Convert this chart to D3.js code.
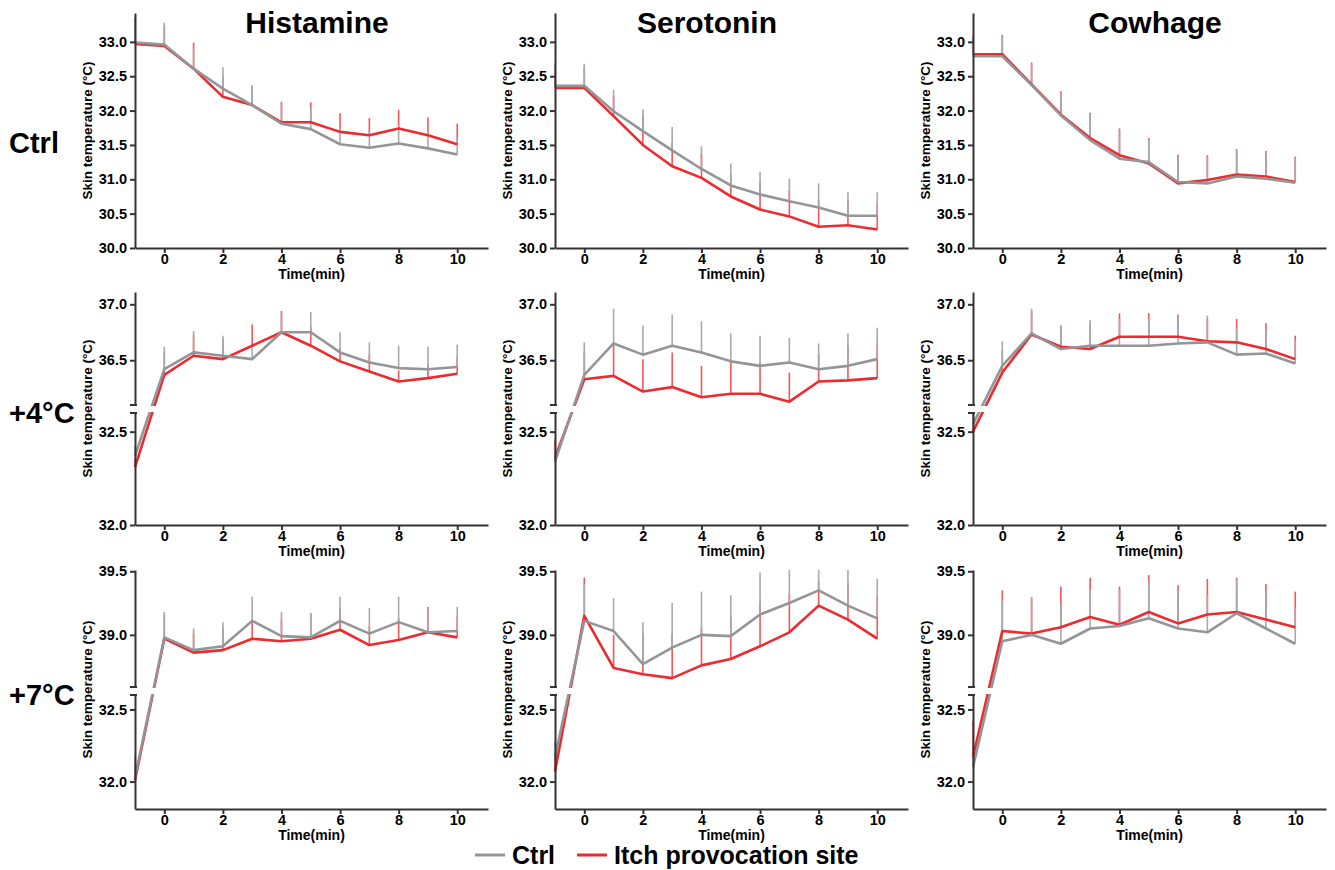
<!DOCTYPE html>
<html>
<head>
<meta charset="utf-8">
<script src="https://cdn.jsdelivr.net/npm/d3@7"></script>
<style>
    body { margin: 0; background: #fff; }
    svg { font-family: "Liberation Sans", Arial, sans-serif; font-weight: bold; }
</style>
</head>
<body>
<div id="chart"></div>
<script>
// time points (min); -1 is the baseline reading before provocation
const times = [-1, 0, 1, 2, 3, 4, 5, 6, 7, 8, 9, 10];
const drugs = ['Histamine', 'Serotonin', 'Cowhage'];
const conditions = ['Ctrl', '+4°C', '+7°C'];
const seriesNames = ['Ctrl', 'Itch provocation site'];
const xTicks = [0, 2, 4, 6, 8, 10];

// y tick labels per row
const baselineTicks = [30, 30.5, 31, 31.5, 32, 32.5, 33];
const plus4Ticks = [32, 32.5, 36.5, 37];
const plus7Ticks = [32, 32.5, 39, 39.5];

// row "Ctrl" : [histamine, serotonin, cowhage]
const baselineCtrlMean = [
    [32.99, 32.96, 32.61, 32.32, 32.08, 31.81, 31.73, 31.51, 31.46, 31.52, 31.45, 31.36],
    [32.36, 32.36, 31.99, 31.70, 31.42, 31.15, 30.91, 30.78, 30.68, 30.59, 30.47, 30.47],
    [32.79, 32.79, 32.37, 31.93, 31.57, 31.30, 31.25, 30.96, 30.94, 31.04, 31.01, 30.95]
];
const baselineCtrlSd = [
    [0.37, 0.32, 0.30, 0.31, 0.29, 0.30, 0.30, 0.25, 0.25, 0.27, 0.25, 0.25],
    [0.33, 0.32, 0.31, 0.32, 0.34, 0.33, 0.32, 0.33, 0.33, 0.35, 0.34, 0.34],
    [0.28, 0.29, 0.31, 0.33, 0.38, 0.42, 0.33, 0.38, 0.39, 0.38, 0.38, 0.36]
];
const baselineItchMean = [
    [32.97, 32.94, 32.61, 32.20, 32.08, 31.83, 31.83, 31.69, 31.64, 31.74, 31.64, 31.51],
    [32.33, 32.33, 31.92, 31.50, 31.19, 31.02, 30.75, 30.56, 30.46, 30.31, 30.33, 30.27],
    [32.82, 32.82, 32.38, 31.94, 31.60, 31.35, 31.23, 30.94, 30.99, 31.07, 31.04, 30.96]
];
const baselineItchSd = [
    [0.38, 0.30, 0.38, 0.30, 0.28, 0.30, 0.29, 0.27, 0.25, 0.27, 0.26, 0.30],
    [0.30, 0.30, 0.29, 0.44, 0.35, 0.35, 0.33, 0.40, 0.38, 0.39, 0.37, 0.39],
    [0.27, 0.28, 0.32, 0.34, 0.37, 0.39, 0.37, 0.42, 0.36, 0.37, 0.37, 0.37]
];

// row "+4°C"
const plus4CtrlMean = [
    [32.37, 36.42, 36.57, 36.54, 36.51, 36.75, 36.75, 36.57, 36.48, 36.43, 36.42, 36.44],
    [32.34, 36.37, 36.65, 36.55, 36.63, 36.57, 36.49, 36.45, 36.48, 36.42, 36.45, 36.51],
    [32.54, 36.45, 36.74, 36.60, 36.63, 36.63, 36.63, 36.65, 36.66, 36.55, 36.56, 36.47]
];
const plus4CtrlSd = [
    [0.05, 0.20, 0.19, 0.18, 0.10, 0.17, 0.18, 0.18, 0.18, 0.20, 0.20, 0.20],
    [0.08, 0.29, 0.31, 0.26, 0.28, 0.28, 0.25, 0.27, 0.22, 0.23, 0.29, 0.28],
    [0.10, 0.22, 0.22, 0.21, 0.23, 0.24, 0.24, 0.25, 0.24, 0.23, 0.22, 0.21]
];
const plus4ItchMean = [
    [32.31, 36.37, 36.54, 36.51, 36.63, 36.75, 36.63, 36.49, 36.40, 36.31, 36.34, 36.38],
    [32.36, 36.33, 36.36, 36.22, 36.26, 36.17, 36.20, 36.20, 36.13, 36.31, 36.32, 36.34],
    [32.50, 36.39, 36.73, 36.62, 36.60, 36.71, 36.71, 36.71, 36.67, 36.66, 36.60, 36.51]
];
const plus4ItchSd = [
    [0.05, 0.20, 0.18, 0.18, 0.19, 0.19, 0.17, 0.12, 0.15, 0.10, 0.12, 0.15],
    [0.10, 0.25, 0.29, 0.29, 0.31, 0.28, 0.30, 0.28, 0.26, 0.25, 0.31, 0.31],
    [0.10, 0.20, 0.21, 0.19, 0.22, 0.21, 0.21, 0.20, 0.20, 0.21, 0.23, 0.21]
];

// row "+7°C"
const plus7CtrlMean = [
    [32.03, 38.98, 38.88, 38.91, 39.11, 38.99, 38.98, 39.11, 39.01, 39.10, 39.02, 39.03],
    [32.17, 39.11, 39.03, 38.77, 38.90, 39.00, 38.99, 39.16, 39.25, 39.35, 39.23, 39.13],
    [32.10, 38.95, 39.00, 38.93, 39.05, 39.07, 39.13, 39.05, 39.02, 39.17, 39.05, 38.93]
];
const plus7CtrlSd = [
    [0.15, 0.20, 0.17, 0.19, 0.19, 0.19, 0.19, 0.19, 0.20, 0.20, 0.19, 0.19],
    [0.10, 0.29, 0.26, 0.33, 0.35, 0.34, 0.32, 0.33, 0.30, 0.30, 0.32, 0.31],
    [0.10, 0.32, 0.30, 0.31, 0.31, 0.29, 0.29, 0.30, 0.30, 0.27, 0.30, 0.28]
];
const plus7ItchMean = [
    [32.01, 38.97, 38.86, 38.88, 38.97, 38.95, 38.97, 39.04, 38.92, 38.96, 39.02, 38.98],
    [32.07, 39.15, 38.74, 38.69, 38.66, 38.76, 38.81, 38.91, 39.02, 39.23, 39.12, 38.97],
    [32.17, 39.03, 39.01, 39.06, 39.14, 39.08, 39.18, 39.09, 39.16, 39.18, 39.12, 39.06]
];
const plus7ItchSd = [
    [0.12, 0.19, 0.15, 0.18, 0.15, 0.17, 0.20, 0.17, 0.15, 0.17, 0.20, 0.17],
    [0.10, 0.30, 0.26, 0.32, 0.35, 0.30, 0.33, 0.35, 0.30, 0.19, 0.29, 0.33],
    [0.25, 0.32, 0.28, 0.32, 0.31, 0.30, 0.29, 0.30, 0.28, 0.27, 0.28, 0.28]
];

const colors = ['#939598', '#ee2a2e'];
const barColors = ['#a7a9ac', '#f2575a'];

const width = 1335;
const height = 870;

const svg = d3.select('#chart')
    .append('svg')
    .attr('width', width)
    .attr('height', height);

// panel layout: column left edges and row segments (broken y axis)
const colLeft = [135, 555, 973];
const plotW = 353;
const rows = [
    {
        ticks: baselineTicks, top: 13, bottom: 248,
        segments: [{domain: [30, 33.42], range: [248, 13]}],
        data: [baselineCtrlMean, baselineItchMean], sd: [baselineCtrlSd, baselineItchSd]
    },
    {
        ticks: plus4Ticks, top: 292, bottom: 525,
        segments: [{domain: [32, 32.6], range: [525, 413]}, {domain: [36.1, 37.11], range: [405, 292]}],
        data: [plus4CtrlMean, plus4ItchMean], sd: [plus4CtrlSd, plus4ItchSd]
    },
    {
        ticks: plus7Ticks, top: 570, bottom: 809,
        segments: [{domain: [31.81, 32.6], range: [809, 695]}, {domain: [38.59, 39.51], range: [687, 570]}],
        data: [plus7CtrlMean, plus7ItchMean], sd: [plus7CtrlSd, plus7ItchSd]
    }
];

const titleX = [317, 707, 1155];
drugs.forEach((d, i) => {
    svg.append('text')
        .attr('x', titleX[i])
        .attr('y', 33)
        .attr('text-anchor', 'middle')
        .attr('font-size', 30)
        .text(d);
});

const rowLabelY = [153, 423, 705];
conditions.forEach((c, i) => {
    svg.append('text')
        .attr('x', 9)
        .attr('y', rowLabelY[i])
        .attr('font-size', 29)
        .text(c);
});

rows.forEach((row, r) => {
    const scales = row.segments.map(s => d3.scaleLinear().domain(s.domain).range(s.range));

    // which axis segment a value belongs to
    function segOf(v) {
        for (let k = scales.length - 1; k > 0; k--) {
            if (v >= row.segments[k].domain[0]) return k;
        }
        return 0;
    }
    const yPos = v => scales[segOf(v)](v);

    drugs.forEach((drug, c) => {
        const x = d3.scaleLinear().domain([-1, 11.05]).range([0, plotW]);
        const g = svg.append('g')
            .attr('transform', `translate(${colLeft[c]},0)`);

        // clip paths for each axis segment
        row.segments.forEach((s, k) => {
            g.append('clipPath')
                .attr('id', `clip-${r}-${c}-${k}`)
                .append('rect')
                .attr('x', -2)
                .attr('y', s.range[1])
                .attr('width', plotW + 4)
                .attr('height', s.range[0] - s.range[1]);
        });

        // error bars (upper only)
        [1, 0].forEach(sIdx => {
            const means = row.data[sIdx][c];
            const sds = row.sd[sIdx][c];
            times.forEach((t, i) => {
                const k = segOf(means[i]);
                g.append('line')
                    .attr('clip-path', `url(#clip-${r}-${c}-${k})`)
                    .attr('x1', x(t))
                    .attr('x2', x(t))
                    .attr('y1', scales[k](means[i]))
                    .attr('y2', scales[k](means[i] + sds[i]))
                    .attr('stroke', barColors[sIdx])
                    .attr('stroke-width', 1.6);
            });
        });

        const line = d3.line()
            .x((d, i) => x(times[i]))
            .y(d => yPos(d));

        [1, 0].forEach(sIdx => {
            g.append('path')
                .datum(row.data[sIdx][c])
                .attr('fill', 'none')
                .attr('stroke', colors[sIdx])
                .attr('stroke-width', 2.6)
                .attr('stroke-linejoin', 'round')
                .attr('d', line);
        });

        // white gap where the axis is broken
        if (row.segments.length > 1) {
            g.append('rect')
                .attr('x', 2)
                .attr('y', row.segments[1].range[0] + 1)
                .attr('width', x(0) - 4)
                .attr('height', row.segments[0].range[1] - row.segments[1].range[0] - 2)
                .attr('fill', '#fff');
        }

        // y axis segments
        row.segments.forEach((s, k) => {
            const ax = g.append('g')
                .attr('class', 'y axis')
                .call(d3.axisLeft(scales[k])
                    .tickValues(row.ticks.filter(v => v >= s.domain[0] && v <= s.domain[1]))
                    .tickFormat(d3.format('.1f'))
                    .tickSize(5)
                    .tickSizeOuter(0));
            if (row.segments.length > 1) {
                const yy = k === 0 ? s.range[1] : s.range[0];
                ax.append('line')
                    .attr('x1', -5).attr('x2', 2)
                    .attr('y1', yy).attr('y2', yy);
            }
        });

        // x axis
        g.append('g')
            .attr('class', 'x axis')
            .attr('transform', `translate(0,${row.bottom})`)
            .call(d3.axisBottom(x)
                .tickValues(xTicks)
                .tickSize(5)
                .tickSizeOuter(0));

        g.append('text')
            .attr('x', plotW / 2)
            .attr('y', row.bottom + 31)
            .attr('text-anchor', 'middle')
            .attr('font-size', 14)
            .text('Time(min)');

        g.append('text')
            .attr('transform', `translate(-43,${(row.top + row.bottom) / 2}) rotate(-90)`)
            .attr('text-anchor', 'middle')
            .attr('font-size', 13.5)
            .text('Skin temperature (°C)');
    });
});

svg.selectAll('.axis path, .axis line')
    .attr('stroke', '#333')
    .attr('stroke-width', 2);
svg.selectAll('.axis text')
    .attr('font-size', 14.5)
    .attr('font-weight', 'bold')
    .attr('font-family', '"Liberation Sans", Arial, sans-serif')
    .attr('fill', '#000');
svg.selectAll('.x.axis text').attr('y', 6).attr('dy', '0.71em');

// legend
const legend = svg.append('g').attr('transform', 'translate(475,855)');
const legendX = [0, 102];
seriesNames.forEach((name, i) => {
    legend.append('line')
        .attr('x1', legendX[i]).attr('x2', legendX[i] + 30)
        .attr('y1', 0).attr('y2', 0)
        .attr('stroke', colors[i])
        .attr('stroke-width', 3);
    legend.append('text')
        .attr('x', legendX[i] + 37)
        .attr('y', 9)
        .attr('font-size', 25)
        .text(name);
});
</script>
</body>
</html>
